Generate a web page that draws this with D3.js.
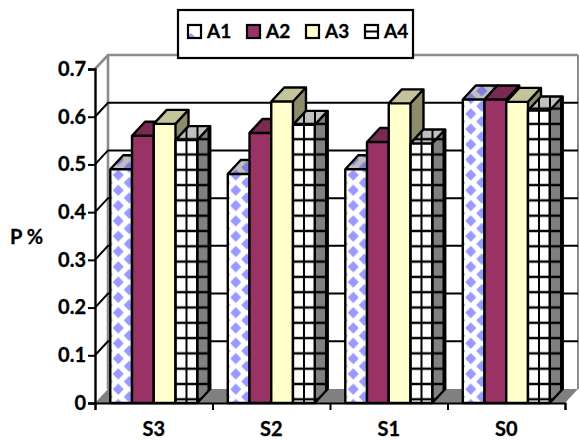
<!DOCTYPE html>
<html>
<head>
<meta charset="utf-8">
<script src="https://cdn.jsdelivr.net/npm/d3@7"></script>
<style>
body { margin: 0; background: #fff; }
text { font-family: Lato, "Open Sans", sans-serif; font-weight: 700; fill: #000; stroke: #000; stroke-width: 0.3px; }
</style>
</head>
<body>
<svg id="chart"></svg>
<script>
const categories = ['S3', 'S2', 'S1', 'S0']
const seriesNames = ['A1', 'A2', 'A3', 'A4']
const a1 = [0.49, 0.48, 0.49, 0.636]
const a2 = [0.56, 0.566, 0.547, 0.636]
const a3 = [0.585, 0.632, 0.628, 0.631]
const a4 = [0.551, 0.583, 0.544, 0.613]
const yTicks = [0, 0.1, 0.2, 0.3, 0.4, 0.5, 0.6, 0.7]

const width = 579, height = 441
const left = 95, right = 565, base = 403, top7 = 69
const depthX = 13, depthY = 14
const fontSize = 20

const svg = d3.select('#chart').attr('width', width).attr('height', height)
const defs = svg.append('defs')

const x0 = d3.scaleBand().domain(categories).range([left, right]).paddingInner(0.26).paddingOuter(0.13)
const x1 = d3.scaleBand().domain(seriesNames).range([0, x0.bandwidth()])
const y = d3.scaleLinear().domain([0, 0.7]).range([base, top7])
const xEdges = d3.scaleLinear().domain([0, 4]).range([left, right])

// diamond fill, used by A1
function diamonds(id, bg, fg) {
	const p = defs.append('pattern').attr('id', id)
		.attr('patternUnits', 'userSpaceOnUse')
		.attr('width', 22).attr('height', 15.3)
		.attr('x', -3).attr('y', 167.35)
	p.append('rect').attr('width', 22).attr('height', 15.3).attr('fill', bg)
	p.append('path').attr('fill', fg)
		.attr('d', 'M11,1.85 L16.5,7.65 L11,13.45 L5.5,7.65Z M0,-5.8 L5.5,0 L0,5.8 L-5.5,0Z M22,-5.8 L27.5,0 L22,5.8 L16.5,0Z M0,9.5 L5.5,15.3 L0,21.1 L-5.5,15.3Z M22,9.5 L27.5,15.3 L22,21.1 L16.5,15.3Z')
}
// black line grid, used by A4. x lines up with the bar's left edge inside its group
function grid(id, bg) {
	const p = defs.append('pattern').attr('id', id)
		.attr('patternUnits', 'userSpaceOnUse')
		.attr('width', 11).attr('height', 15.3)
		.attr('x', x1('A4')).attr('y', 154.5)
	p.append('rect').attr('width', 11).attr('height', 15.3).attr('fill', bg)
	p.append('path').attr('stroke', '#000').attr('stroke-width', 2.4).attr('fill', 'none')
		.attr('d', 'M0,0H11M0,15.3H11')
	p.append('path').attr('stroke', '#000').attr('stroke-width', 2).attr('fill', 'none')
		.attr('d', 'M0,0V15.3M11,0V15.3')
}
diamonds('a1Front', '#fff', '#9999ff')
diamonds('a1Top', '#c0c0c0', '#8080d8')
diamonds('a1Side', '#808080', '#5c5c9c')
grid('a4Front', '#fff')
grid('a4Top', '#c0c0c0')
grid('a4Side', '#808080')

// legend swatches only show a small piece of the fill
const keyA1 = defs.append('pattern').attr('id', 'a1Key').attr('patternUnits', 'userSpaceOnUse').attr('width', 30).attr('height', 30)
keyA1.append('rect').attr('width', 30).attr('height', 30).attr('fill', '#fff')
keyA1.append('path').attr('fill', '#9999ff').attr('d', 'M3,8 L8,13 L3,18 L-2,13Z')
const keyA4 = defs.append('pattern').attr('id', 'a4Key').attr('patternUnits', 'userSpaceOnUse').attr('width', 30).attr('height', 30)
keyA4.append('rect').attr('width', 30).attr('height', 30).attr('fill', '#fff')
keyA4.append('path').attr('stroke', '#000').attr('stroke-width', 2).attr('d', 'M0,6.5H30')

const faces = {
	A1: { front: 'url(#a1Front)', top: 'url(#a1Top)', side: 'url(#a1Side)', key: 'url(#a1Key)' },
	A2: { front: '#993366', top: '#7a2952', side: '#6e2549', key: '#993366' },
	A3: { front: '#ffffcc', top: '#c4c49c', side: '#8c8c6c', key: '#ffffcc' },
	A4: { front: 'url(#a4Front)', top: 'url(#a4Top)', side: 'url(#a4Side)', key: 'url(#a4Key)' }
}

// walls and floor
svg.append('path')
	.attr('d', `M${left},${base}L${left + depthX},${base - depthY}H${right + depthX}L${right},${base}Z`)
	.attr('fill', '#808080')
svg.append('path')
	.attr('d', `M${left},${top7}L${left + depthX},${top7 - depthY}H${right + depthX}M${left + depthX},${top7 - depthY}V${base - depthY}`)
	.attr('fill', 'none').attr('stroke', '#8c8c8c').attr('stroke-width', 2.6)
svg.append('line')
	.attr('x1', right + depthX).attr('x2', right + depthX)
	.attr('y1', top7 - depthY).attr('y2', base - depthY)
	.attr('stroke', '#8c8c8c').attr('stroke-width', 2)

// gridlines
svg.append('g').selectAll('path')
	.data(yTicks.filter(t => t > 0 && t < 0.7))
	.join('path')
	.attr('d', t => `M${left},${y(t)}L${left + depthX},${y(t) - depthY}H${right + depthX}`)
	.attr('fill', 'none').attr('stroke', '#000').attr('stroke-width', 2)

// bars, drawn in series order so later bars sit over earlier sides
const rows = categories.map((c, i) => ({
	cat: c,
	bars: [a1, a2, a3, a4].map((s, j) => ({ name: seriesNames[j], value: s[i] }))
}))
const bars = svg.append('g').selectAll('g')
	.data(rows)
	.join('g')
	.attr('transform', d => `translate(${x0(d.cat)},0)`)
	.selectAll('g')
	.data(d => d.bars)
	.join('g')

const bw = x1.bandwidth()
bars.append('path')
	.attr('d', d => `M${x1(d.name) + bw},${base}V${y(d.value)}l${depthX},${-depthY}V${base - depthY}Z`)
	.attr('fill', d => faces[d.name].side)
bars.append('path')
	.attr('d', d => `M${x1(d.name)},${y(d.value)}l${depthX},${-depthY}h${bw}l${-depthX},${depthY}Z`)
	.attr('fill', d => faces[d.name].top)
bars.append('rect')
	.attr('x', d => x1(d.name)).attr('y', d => y(d.value))
	.attr('width', bw).attr('height', d => base - y(d.value))
	.attr('fill', d => faces[d.name].front)
bars.append('path')
	.attr('d', d => `M${x1(d.name)},${base}V${y(d.value)}l${depthX},${-depthY}h${bw}V${base - depthY}l${-depthX},${depthY}H${x1(d.name)}M${x1(d.name)},${y(d.value)}h${bw}l${depthX},${-depthY}M${x1(d.name) + bw},${y(d.value)}V${base}`)
	.attr('fill', 'none').attr('stroke', '#000').attr('stroke-width', 2.4).attr('stroke-linejoin', 'round')

// axes
const yAxis = svg.append('g')
	.attr('transform', `translate(${left},0)`)
	.call(d3.axisLeft(y).tickValues(yTicks).tickSize(7).tickPadding(2).tickFormat(d => d === 0 ? '0' : d3.format('.1f')(d)))
yAxis.selectAll('text').style('font-size', fontSize + 'px').style('font-family', 'Lato').style('font-weight', 700)
yAxis.selectAll('line').attr('stroke', '#000').attr('stroke-width', 2)
yAxis.select('.domain').attr('stroke', '#000').attr('stroke-width', 2.4)

svg.append('g')
	.attr('transform', `translate(0,${base})`)
	.call(d3.axisBottom(xEdges).ticks(4).tickSize(7).tickFormat(''))
	.call(g => g.selectAll('line').attr('stroke', '#000').attr('stroke-width', 2))
	.call(g => g.select('.domain').attr('stroke', '#000').attr('stroke-width', 2))

const xLabels = svg.append('g')
	.attr('transform', `translate(0,${base})`)
	.call(d3.axisBottom(x0).tickSize(0).tickPadding(19))
xLabels.select('.domain').remove()
xLabels.selectAll('text').style('font-size', fontSize + 'px').style('font-family', 'Lato').style('font-weight', 700)

svg.append('text').attr('x', 10).attr('y', 244).style('font-size', fontSize + 'px').text('P %')

// legend
const legend = svg.append('g')
legend.append('rect').attr('x', 178).attr('y', 10).attr('width', 235).attr('height', 48)
	.attr('fill', '#fff').attr('stroke', '#000').attr('stroke-width', 2.2)
const legendX = d3.scalePoint().domain(seriesNames).range([188, 365])
const item = legend.selectAll('g.item').data(seriesNames).join('g').attr('class', 'item')
	.attr('transform', d => `translate(${legendX(d)},25)`)
item.append('rect').attr('width', 13).attr('height', 13)
	.attr('fill', d => faces[d].key).attr('stroke', '#000').attr('stroke-width', 2.2)
item.append('text').attr('x', 19).attr('y', 13).style('font-size', '19px').text(d => d)
</script>
</body>
</html>
